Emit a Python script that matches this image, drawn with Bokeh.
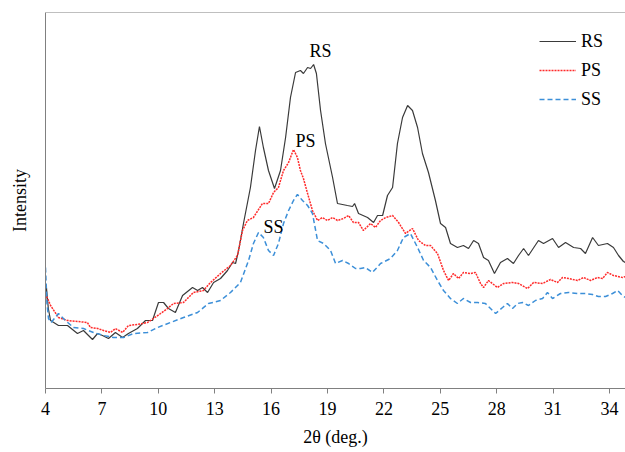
from bokeh.plotting import figure
from bokeh.models import FixedTicker, Range1d, Span, Legend, LegendItem
from bokeh.core.properties import value
from bokeh.embed import file_html
from bokeh.resources import INLINE

FONT = "'Liberation Serif', 'Times New Roman', serif"

# 2theta (deg.) and intensity (a.u.)
rs_x = [4.00, 4.04, 4.15, 4.27, 4.69, 5.17, 5.70, 6.02, 6.50, 6.77, 7.03, 7.35, 7.72, 8.10, 8.41,
        8.89, 9.32, 9.69, 10.01, 10.28, 10.54, 10.91, 11.29, 11.82, 12.09, 12.35, 12.62, 12.94,
        13.31, 13.68, 13.95, 14.11, 14.27, 14.53, 14.90, 15.17, 15.38, 15.59, 15.86, 16.18, 16.50,
        16.77, 17.03, 17.30, 17.56, 17.72, 17.94, 18.10, 18.26, 18.41, 18.63, 18.89, 19.27, 19.53,
        20.06, 20.33, 20.44, 20.65, 21.13, 21.45, 21.66, 21.93, 22.19, 22.46, 22.72, 22.99, 23.26,
        23.52, 23.79, 24.05, 24.37, 24.74, 25.01, 25.28, 25.54, 25.91, 26.23, 26.50, 26.77, 27.03,
        27.30, 27.56, 27.88, 28.20, 28.57, 28.89, 29.16, 29.43, 29.69, 30.22, 30.49, 30.97, 31.29,
        31.66, 32.09, 32.46, 32.72, 33.10, 33.41, 33.89, 34.21, 34.48, 34.74, 34.85]
rs_y = [85, 103, 80, 68, 63, 63, 55, 58, 49, 55, 53, 50, 56, 51, 55,
        60, 68, 68, 86, 86, 80, 76, 93, 101, 98, 101, 96, 106,
        110, 118, 126, 125, 138, 165, 201, 238, 262, 241, 218, 200, 218,
        251, 291, 316, 318, 315, 321, 320, 324, 315, 278, 245, 211, 185,
        183, 182, 185, 175, 171, 166, 173, 173, 193, 201, 245, 271, 283,
        278, 261, 235, 216, 188, 165, 161, 145, 141, 143, 140, 148, 145,
        131, 128, 115, 126, 130, 125, 133, 140, 133, 148, 145, 150, 141,
        146, 141, 140, 135, 151, 143, 145, 141, 133, 127, 126]

ps_x = [4.00, 4.27, 4.69, 5.17, 5.70, 6.23, 6.39, 6.77, 7.09, 7.46, 7.72, 8.10, 8.41, 8.89, 9.43,
        9.74, 10.12, 10.49, 10.81, 11.34, 11.87, 12.40, 12.78, 13.31, 13.84, 14.21, 14.48, 14.74,
        15.06, 15.54, 15.86, 16.13, 16.39, 16.66, 16.93, 17.19, 17.40, 17.56, 17.72, 17.94, 18.20,
        18.47, 18.73, 19.00, 19.27, 19.53, 19.85, 20.12, 20.38, 20.65, 20.91, 21.29, 21.55, 21.82,
        22.09, 22.46, 22.78, 23.15, 23.52, 23.84, 24.21, 24.48, 24.85, 25.17, 25.44, 25.70, 25.97,
        26.23, 26.61, 26.87, 27.14, 27.30, 27.56, 28.04, 28.36, 28.84, 29.16, 29.64, 29.96, 30.44,
        30.86, 31.23, 31.50, 31.82, 32.30, 32.62, 32.99, 33.36, 33.63, 33.89, 34.21, 34.69, 34.85]
ps_y = [95, 83, 71, 68, 67, 66, 61, 60, 58, 56, 60, 56, 63, 64, 66,
        70, 75, 80, 85, 86, 96, 98, 106, 115, 123, 133, 158, 168,
        171, 185, 185, 196, 201, 218, 226, 239, 231, 218, 210, 195, 178,
        168, 171, 168, 171, 168, 170, 173, 166, 166, 158, 165, 161, 168,
        171, 173, 166, 155, 160, 148, 143, 143, 135, 118, 108, 115, 110,
        116, 115, 116, 105, 101, 108, 101, 105, 106, 105, 100, 106, 105,
        109, 106, 111, 110, 108, 111, 108, 111, 110, 116, 113, 111, 112]

ss_x = [4.00, 4.08, 4.16, 4.30, 4.69, 5.06, 5.49, 6.02, 6.55, 7.09, 7.62, 8.15, 8.68, 9.43, 9.96,
        10.65, 11.34, 12.09, 12.67, 13.31, 13.84, 14.37, 14.80, 15.06, 15.33, 15.59, 15.86, 16.13,
        16.39, 16.66, 16.93, 17.19, 17.40, 17.67, 17.94, 18.20, 18.47, 18.79, 19.16, 19.43, 19.80,
        20.12, 20.49, 20.76, 21.02, 21.39, 21.82, 22.35, 22.72, 23.04, 23.41, 23.79, 24.11, 24.48,
        24.85, 25.17, 25.54, 25.91, 26.23, 26.61, 26.98, 27.40, 27.67, 27.94, 28.31, 28.57, 28.84,
        29.11, 29.37, 29.69, 30.06, 30.44, 30.70, 30.97, 31.39, 31.82, 32.30, 32.72, 33.10, 33.41,
        33.79, 34.16, 34.43, 34.69, 34.85]
ss_y = [121, 85, 70, 66, 75, 68, 61, 60, 56, 53, 51, 51, 55, 56, 61,
        66, 71, 76, 85, 88, 96, 106, 128, 145, 156, 151, 138, 133,
        145, 165, 178, 188, 194, 188, 183, 175, 148, 145, 138, 125, 128,
        125, 120, 120, 121, 116, 125, 130, 138, 151, 155, 141, 128, 121,
        108, 98, 90, 85, 90, 86, 86, 85, 80, 75, 81, 85, 80,
        85, 86, 83, 88, 90, 96, 90, 95, 96, 95, 95, 94, 92,
        92, 95, 98, 93, 91]

x_ticks = [4, 7, 10, 13, 16, 19, 22, 25, 28, 31, 34]
series_names = ["RS", "PS", "SS"]

p = figure(width=625, height=452, output_backend="svg", toolbar_location=None,
           x_range=Range1d(4, 34.85), y_range=Range1d(0, 376),
           min_border_left=45, min_border_right=0, min_border_top=12, min_border_bottom=64)
p.background_fill_color = "white"
p.border_fill_color = "white"
p.outline_line_color = None
p.xgrid.visible = False
p.ygrid.visible = False

r_rs = p.line(rs_x, rs_y, line_color="#3a3a3a", line_width=1.2)
r_ps = p.line(ps_x, ps_y, line_color="#ff2a2a", line_width=1.5, line_dash="2 1")
r_ss = p.line(ss_x, ss_y, line_color="#3c8fd8", line_width=1.5, line_dash="5 3")

# top frame line
p.add_layout(Span(location=376, dimension="width", line_color="#808080", line_width=1))

xa = p.xaxis[0]
xa.ticker = FixedTicker(ticks=x_ticks)
xa.minor_tick_line_color = None
xa.major_tick_in = 0
xa.major_tick_out = 5
xa.axis_line_color = "#808080"
xa.major_tick_line_color = "#808080"
xa.major_label_text_font = FONT
xa.major_label_text_font_size = "18px"
xa.major_label_text_color = "black"
xa.major_label_standoff = 8
xa.axis_label = "2θ (deg.)"
xa.axis_label_text_font = FONT
xa.axis_label_text_font_size = "18px"
xa.axis_label_text_font_style = "normal"
xa.axis_label_text_color = "black"
xa.axis_label_standoff = 9

ya = p.yaxis[0]
ya.ticker = FixedTicker(ticks=[])
ya.minor_tick_line_color = None
ya.major_tick_line_color = None
ya.major_tick_in = 0
ya.major_tick_out = 0
ya.major_label_standoff = 0
ya.axis_line_color = "#808080"
ya.axis_label = "Intensity"
ya.axis_label_text_font = FONT
ya.axis_label_text_font_size = "18px"
ya.axis_label_text_font_style = "normal"
ya.axis_label_text_color = "black"
ya.axis_label_standoff = 16

# peak annotations
p.text(x=[18.63], y=[338], text=["RS"], text_font=value(FONT), text_font_size="18px",
       text_align="center", text_baseline="middle", text_color="black")
p.text(x=[17.83], y=[248], text=["PS"], text_font=value(FONT), text_font_size="18px",
       text_align="center", text_baseline="middle", text_color="black")
p.text(x=[16.13], y=[162], text=["SS"], text_font=value(FONT), text_font_size="18px",
       text_align="center", text_baseline="middle", text_color="black")

legend = Legend(items=[LegendItem(label=series_names[0], renderers=[r_rs]),
                       LegendItem(label=series_names[1], renderers=[r_ps]),
                       LegendItem(label=series_names[2], renderers=[r_ss])],
                location=(494, 276))
legend.border_line_color = None
legend.background_fill_alpha = 0
legend.padding = 0
legend.margin = 0
legend.spacing = 3
legend.glyph_width = 37
legend.glyph_height = 26
legend.label_height = 26
legend.label_standoff = 5
legend.label_text_font = FONT
legend.label_text_font_size = "18px"
legend.label_text_color = "black"
p.add_layout(legend)

open("out.html", "w").write(file_html(p, INLINE))
